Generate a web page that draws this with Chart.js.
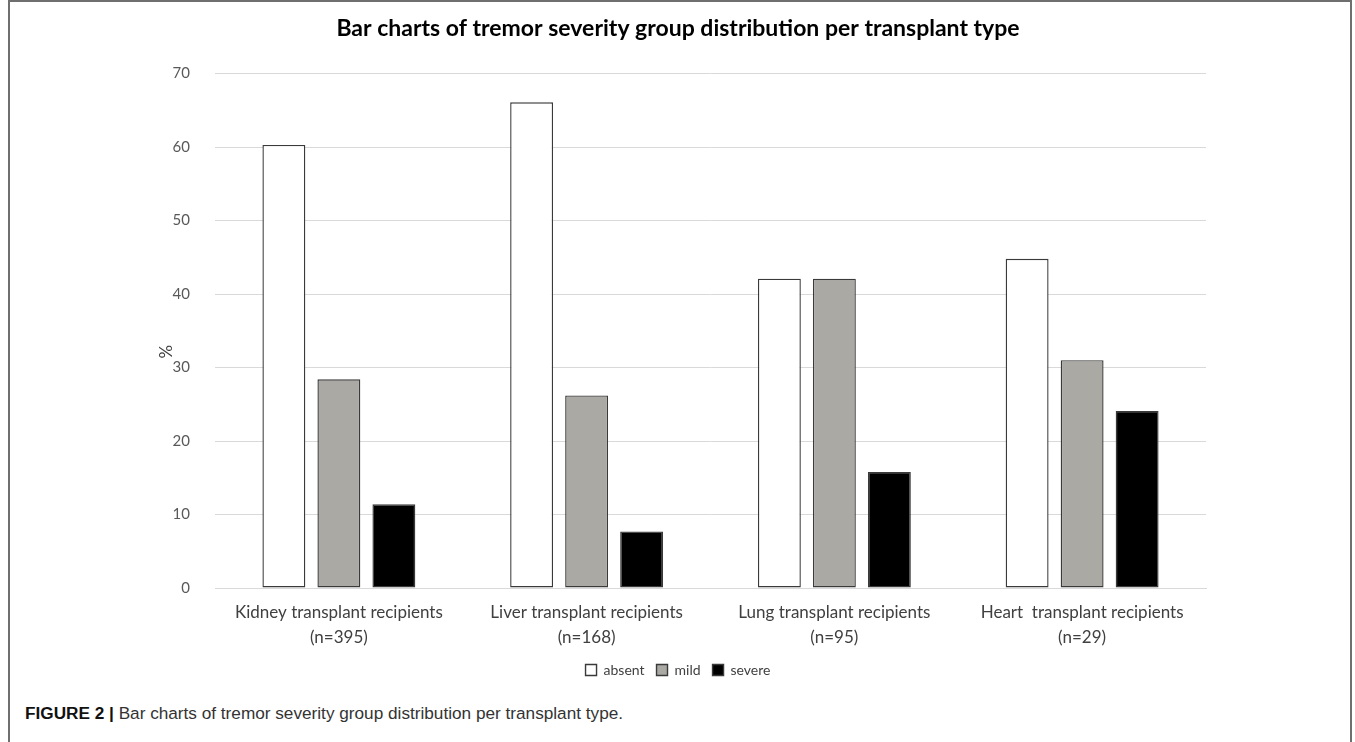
<!DOCTYPE html>
<html>
<head>
<meta charset="utf-8">
<script src="https://cdn.jsdelivr.net/npm/chart.js@4"></script>
<style>
  html, body { margin: 0; padding: 0; background: #fff; }
  body { width: 1355px; height: 742px; position: relative; overflow: hidden; }
  .frame {
    position: absolute; left: 8px; top: 0px; width: 1344px; height: 760px;
    border: 2px solid #6f6f6f; box-sizing: border-box;
  }
  .chart-box { position: absolute; left: 10px; top: 2px; width: 1343px; height: 690px; }
  .caption {
    position: absolute; left: 25px; top: 703px;
    font-family: "Liberation Sans", Arial, sans-serif; font-size: 17.2px; color: #333;
    white-space: nowrap;
  }
  .caption b { color: #111; }
</style>
</head>
<body>
<div class="frame"></div>
<div class="chart-box"><canvas id="c"></canvas></div>
<div class="caption"><b>FIGURE 2 |</b> Bar charts of tremor severity group distribution per transplant type.</div>
<script>
// Transplant groups (two-line axis labels)
const categories = [
  ["Kidney transplant recipients", "(n=395)"],
  ["Liver transplant recipients", "(n=168)"],
  ["Lung transplant recipients", "(n=95)"],
  ["Heart  transplant recipients", "(n=29)"]
];
// Percentage of recipients in each tremor severity group
const absentValues = [60.3, 66.1, 42.1, 44.8];
const mildValues   = [28.4, 26.2, 42.1, 31.0];
const severeValues = [11.4, 7.7, 15.8, 24.1];
const seriesNames  = ["absent", "mild", "severe"];
const yTicks = [0, 10, 20, 30, 40, 50, 60, 70];
const yAxisLabel = "%";

const fontFamily = "Lato, 'Open Sans', sans-serif";

const barStyle = {
  borderColor: "#3a3a3a",
  borderWidth: 1.4,
  borderSkipped: false,
  categoryPercentage: 0.666,
  barPercentage: 0.78
};

// Draws the rotated y-axis label a little below the middle of the axis
const yLabelPlugin = {
  id: "yLabel",
  afterDraw(chart) {
    const { ctx, chartArea, scales } = chart;
    const y = scales.y;
    ctx.save();
    ctx.translate(y.left + 17, (chartArea.top + chartArea.bottom) / 2 + 21);
    ctx.rotate(-Math.PI / 2);
    ctx.font = "17px " + fontFamily;
    ctx.fillStyle = "#404040";
    ctx.textAlign = "center";
    ctx.textBaseline = "middle";
    ctx.fillText(yAxisLabel, 0, 0);
    ctx.restore();
  }
};

new Chart(document.getElementById("c"), {
  type: "bar",
  data: {
    labels: categories,
    datasets: [
      Object.assign({ label: seriesNames[0], data: absentValues, backgroundColor: "#ffffff" }, barStyle),
      Object.assign({ label: seriesNames[1], data: mildValues, backgroundColor: "#aaa9a4" }, barStyle),
      Object.assign({ label: seriesNames[2], data: severeValues, backgroundColor: "#000000" }, barStyle)
    ]
  },
  plugins: [yLabelPlugin],
  options: {
    responsive: true,
    maintainAspectRatio: false,
    animation: false,
    layout: { padding: { left: 140, right: 147, top: 0, bottom: 5 } },
    plugins: {
      title: {
        display: true,
        text: "Bar charts of tremor severity group distribution per transplant type",
        color: "#000",
        font: { family: fontFamily, size: 23, weight: "bold" },
        padding: { top: 13, bottom: 31 }
      },
      legend: {
        position: "bottom",
        labels: {
          color: "#404040",
          font: { family: fontFamily, size: 14 },
          boxWidth: 11,
          boxHeight: 11,
          padding: 12
        }
      },
      tooltip: { enabled: false }
    },
    scales: {
      x: {
        grid: { display: false },
        border: { display: true, color: "#d9d9d9", width: 1 },
        ticks: {
          color: "#404040",
          font: { family: fontFamily, size: 17, lineHeight: 1.47 },
          padding: 4,
          maxRotation: 0,
          autoSkip: false
        },
        afterFit: (scale) => { scale.height = 63; }
      },
      y: {
        min: 0,
        max: 70,
        afterBuildTicks: (scale) => { scale.ticks = yTicks.map(v => ({ value: v })); },
        grid: { color: "#d9d9d9", lineWidth: 1, drawTicks: false },
        border: { display: false },
        ticks: {
          color: "#595959",
          font: { family: fontFamily, size: 15 },
          padding: 25
        },
        afterFit: (scale) => { scale.width = 65; }
      }
    }
  }
});
</script>
</body>
</html>
